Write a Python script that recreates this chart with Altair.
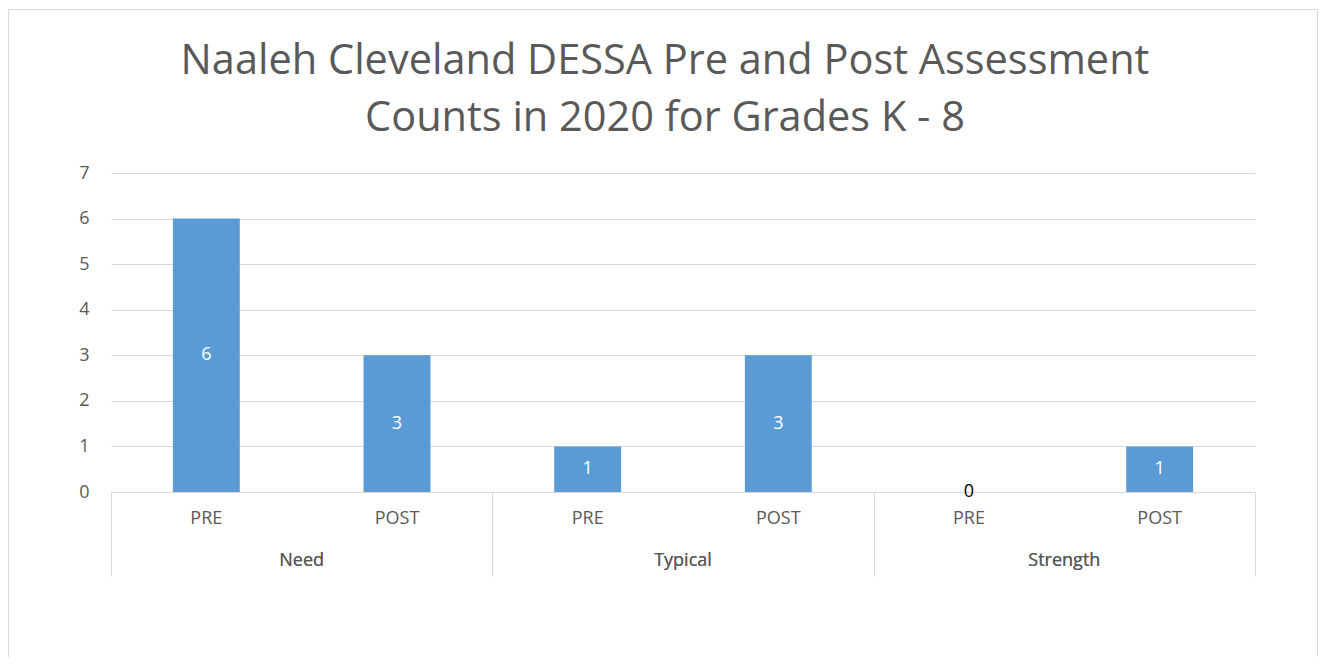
import altair as alt
import pandas as pd

# ---- data ----
groups = ["Need", "Need", "Typical", "Typical", "Strength", "Strength"]
phases = ["PRE", "POST", "PRE", "POST", "PRE", "POST"]
counts = [6, 3, 1, 3, 0, 1]
group_order = ["Need", "Typical", "Strength"]
phase_order = ["PRE", "POST"]
y_ticks = [0, 1, 2, 3, 4, 5, 6, 7]
title_lines = ["Naaleh Cleveland DESSA Pre and Post Assessment",
               "Counts in 2020 for Grades K - 8"]

df = pd.DataFrame({"Group": groups, "Phase": phases, "Count": counts})

W, H = 1144, 319
FONT = "Open Sans"
GRAY = "#595959"
LINE = "#d9d9d9"
BLUE = "#5B9BD5"

x_enc = alt.X(
    "Group:N", sort=group_order,
    scale=alt.Scale(paddingInner=0, paddingOuter=0),
    axis=alt.Axis(title=None, labels=False, grid=False, tickBand="extent",
                  tickSize=84, tickColor=LINE, domainColor=LINE,
                  tickWidth=1, domainWidth=1),
)
xo_enc = alt.XOffset("Phase:N", sort=phase_order,
                     scale=alt.Scale(paddingInner=0.649, paddingOuter=0.3245))
y_scale = alt.Scale(domain=[0, 7])
y_axis = alt.Axis(title=None, values=y_ticks, ticks=False, domain=False,
                  gridColor=LINE, labelFont=FONT, labelFontSize=18,
                  labelColor=GRAY, labelPadding=22)

base = alt.Chart(df)

bars = base.mark_bar(color=BLUE).encode(
    x=x_enc, xOffset=xo_enc,
    y=alt.Y("Count:Q", scale=y_scale, axis=y_axis),
)

value_labels = base.transform_calculate(mid="datum.Count / 2").mark_text(
    font=FONT, fontSize=18, baseline="middle"
).encode(
    x=x_enc, xOffset=xo_enc,
    y=alt.Y("mid:Q", scale=y_scale, axis=y_axis),
    text="Count:Q",
    color=alt.condition("datum.Count == 0", alt.value("black"), alt.value("white")),
)

phase_labels = base.mark_text(font=FONT, fontSize=18, color=GRAY, baseline="middle").encode(
    x=x_enc, xOffset=xo_enc, y=alt.value(H + 27), text="Phase:N",
)

group_labels = base.mark_text(font=FONT, fontSize=18, color=GRAY, baseline="middle").encode(
    x=x_enc, y=alt.value(H + 69), text="Group:N",
)

frame = alt.Chart(pd.DataFrame({"f": [0]})).mark_rect(
    fillOpacity=0, stroke=LINE, strokeWidth=1
).encode(
    x=alt.value(-102.5), x2=alt.value(1206.5),
    y=alt.value(-163.5), y2=alt.value(700),
)

chart = alt.layer(frame, bars, value_labels, phase_labels, group_labels).properties(
    width=W, height=H,
    title=alt.TitleParams(text=title_lines, font=FONT, fontSize=41.5, fontWeight="normal",
                          color=GRAY, anchor="middle", dx=-18, offset=-130, lineHeight=57),
    autosize=alt.AutoSizeParams(type="none"),
    padding={"left": 103, "top": 165, "right": 63, "bottom": 165},
).configure(background="white").configure_view(stroke=None)

chart.save("out.html", embed_options={"renderer": "svg", "actions": False})
